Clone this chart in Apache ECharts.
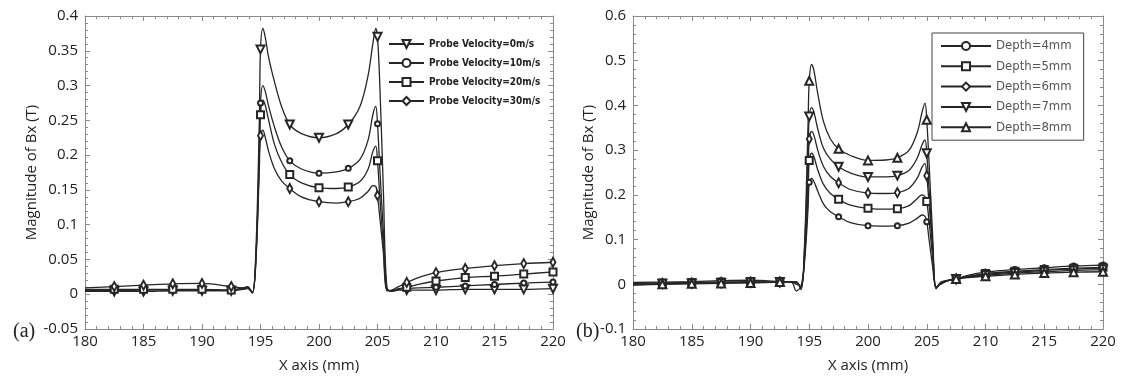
<!DOCTYPE html>
<html>
<head>
<meta charset="utf-8">
<script src="https://cdn.jsdelivr.net/npm/echarts@6/dist/echarts.min.js"></script>
<style>
  html, body { margin: 0; padding: 0; background: #fff; }
  #chart { width: 1121px; height: 378px; }
</style>
</head>
<body>
<div id="chart"></div>
<script>
// sample positions along the x axis (mm), shared by both panels
const xPos = [180, 182.5, 185, 187.5, 190, 192.5, 193.5, 193.9, 194.3, 194.6, 194.9, 195, 195.2, 195.4, 195.7, 196.2, 196.8, 197.5, 198.5, 200, 201.5, 202.5, 203.5, 204.2, 204.6, 204.85, 205, 205.2, 205.5, 205.8, 206.2, 206.8, 207.5, 208.5, 210, 212.5, 215, 217.5, 220];

// panel (a): probe velocity
const velocityNames = ["Probe Velocity=0m/s", "Probe Velocity=10m/s", "Probe Velocity=20m/s", "Probe Velocity=30m/s"];
const vel0 = [0.004, 0.004, 0.004, 0.005, 0.005, 0.005, 0.007, 0.008, 0.002, 0.06, 0.25, 0.352, 0.382, 0.37, 0.34, 0.305, 0.27, 0.244, 0.231, 0.225, 0.231, 0.244, 0.27, 0.315, 0.36, 0.382, 0.37, 0.3, 0.15, 0.01, 0.004, 0.006, 0.006, 0.006, 0.006, 0.007, 0.007, 0.007, 0.008];
const vel10 = [0.005, 0.005, 0.006, 0.006, 0.006, 0.006, 0.008, 0.009, 0.002, 0.05, 0.2, 0.275, 0.3, 0.292, 0.27, 0.24, 0.212, 0.192, 0.18, 0.174, 0.176, 0.181, 0.194, 0.222, 0.258, 0.27, 0.245, 0.18, 0.09, 0.008, 0.005, 0.007, 0.008, 0.009, 0.01, 0.012, 0.014, 0.016, 0.0175];
const vel20 = [0.007, 0.007, 0.007, 0.007, 0.007, 0.006, 0.009, 0.01, 0.002, 0.05, 0.2, 0.258, 0.279, 0.272, 0.25, 0.215, 0.19, 0.172, 0.16, 0.153, 0.152, 0.154, 0.162, 0.18, 0.205, 0.213, 0.192, 0.14, 0.07, 0.006, 0.005, 0.008, 0.01, 0.014, 0.019, 0.024, 0.026, 0.029, 0.032];
const vel30 = [0.009, 0.011, 0.013, 0.015, 0.0155, 0.011, 0.009, 0.011, 0.002, 0.045, 0.18, 0.228, 0.236, 0.226, 0.205, 0.18, 0.163, 0.152, 0.14, 0.133, 0.131, 0.133, 0.138, 0.148, 0.156, 0.155, 0.142, 0.11, 0.06, 0.005, 0.006, 0.011, 0.017, 0.024, 0.031, 0.037, 0.041, 0.044, 0.046];

// panel (b): defect depth
const depthNames = ["Depth=4mm", "Depth=5mm", "Depth=6mm", "Depth=7mm", "Depth=8mm"];
const depth4 = [0.004, 0.005, 0.006, 0.008, 0.009, 0.006, 0.004, -0.015, -0.004, 0.05, 0.17, 0.228, 0.237, 0.23, 0.21, 0.18, 0.162, 0.151, 0.138, 0.131, 0.13, 0.131, 0.137, 0.148, 0.155, 0.152, 0.14, 0.1, 0.04, -0.006, 0.0, 0.008, 0.012, 0.02, 0.027, 0.033, 0.037, 0.041, 0.043];
const depth5 = [0.002, 0.003, 0.004, 0.005, 0.006, 0.005, 0.005, 0.0, -0.005, 0.06, 0.2, 0.277, 0.293, 0.285, 0.258, 0.224, 0.203, 0.19, 0.177, 0.17, 0.168, 0.169, 0.176, 0.192, 0.2, 0.196, 0.185, 0.14, 0.06, -0.008, 0.002, 0.008, 0.012, 0.018, 0.024, 0.029, 0.033, 0.036, 0.038];
const depth6 = [0.0, 0.002, 0.003, 0.004, 0.005, 0.005, 0.006, 0.004, -0.007, 0.07, 0.24, 0.325, 0.342, 0.333, 0.302, 0.264, 0.241, 0.227, 0.212, 0.204, 0.203, 0.205, 0.215, 0.238, 0.262, 0.27, 0.243, 0.18, 0.08, -0.008, 0.003, 0.008, 0.012, 0.017, 0.022, 0.027, 0.031, 0.034, 0.036];
const depth7 = [-0.001, 0.001, 0.002, 0.003, 0.004, 0.005, 0.006, 0.005, -0.009, 0.08, 0.3, 0.375, 0.395, 0.385, 0.35, 0.305, 0.28, 0.263, 0.249, 0.24, 0.24, 0.243, 0.255, 0.283, 0.312, 0.323, 0.293, 0.21, 0.09, -0.009, 0.004, 0.008, 0.012, 0.016, 0.02, 0.025, 0.028, 0.031, 0.033];
const depth8 = [-0.002, 0.0, 0.001, 0.002, 0.003, 0.005, 0.006, 0.006, -0.012, 0.09, 0.36, 0.455, 0.492, 0.478, 0.43, 0.365, 0.325, 0.303, 0.288, 0.277, 0.278, 0.283, 0.3, 0.34, 0.385, 0.405, 0.368, 0.27, 0.11, -0.01, 0.005, 0.009, 0.012, 0.015, 0.018, 0.022, 0.025, 0.027, 0.028];

const LINE = "#262626";
const AXIS = "#8a8a8a";
const tickFont = '"Open Sans", "Noto Sans", sans-serif';
const narrowFont = '"Liberation Sans Narrow", "DejaVu Sans Condensed", sans-serif';

// markers only every 2.5 mm, like the original plot
function toData(ys) {
  return xPos.map((x, i) => {
    if (x > 180 && x % 2.5 === 0) return [x, ys[i]];
    return { value: [x, ys[i]], symbol: "none" };
  });
}

function lineSeries(name, ys, axisIdx, symbol, size, rotate) {
  return {
    name: name,
    type: "line",
    xAxisIndex: axisIdx,
    yAxisIndex: axisIdx,
    data: toData(ys),
    smooth: 0.35,
    symbol: symbol,
    symbolSize: size,
    symbolRotate: rotate || 0,
    showAllSymbol: true,
    lineStyle: { color: LINE, width: 1.3 },
    itemStyle: { color: LINE, borderWidth: 1 },
    emphasis: { disabled: true },
  };
}

function xAx(grid, top) {
  return {
    type: "value",
    gridIndex: grid,
    position: top ? "top" : "bottom",
    min: 180,
    max: 220,
    interval: 5,
    name: top ? "" : "X axis (mm)",
    nameLocation: "middle",
    nameGap: 29,
    nameTextStyle: { fontFamily: tickFont, fontSize: 15, color: "#222" },
    axisLine: { show: true, onZero: false, lineStyle: { color: AXIS, width: 1 } },
    axisTick: { show: true, inside: true, length: 5, lineStyle: { color: AXIS } },
    minorTick: { show: true, splitNumber: 5, length: 3, lineStyle: { color: AXIS } },
    splitLine: { show: false },
    axisLabel: { show: !top, fontFamily: tickFont, fontSize: 15, color: "#222", margin: 5 },
  };
}

function yAx(grid, right, min, max, step, gap) {
  return {
    type: "value",
    gridIndex: grid,
    position: right ? "right" : "left",
    min: min,
    max: max,
    interval: step,
    name: right ? "" : "Magnitude of Bx (T)",
    nameLocation: "middle",
    nameGap: gap,
    nameTextStyle: { fontFamily: tickFont, fontSize: 15, color: "#222" },
    axisLine: { show: true, onZero: false, lineStyle: { color: AXIS, width: 1 } },
    axisTick: { show: true, inside: true, length: 5, lineStyle: { color: AXIS } },
    minorTick: { show: true, splitNumber: 5, length: 3, lineStyle: { color: AXIS } },
    splitLine: { show: false },
    axisLabel: { show: !right, fontFamily: tickFont, fontSize: 15, color: "#222", margin: 7 },
  };
}

const chart = echarts.init(document.getElementById("chart"));

chart.setOption({
  animation: false,
  backgroundColor: "#fff",
  grid: [
    { left: 85, top: 16, width: 468, height: 320 },
    { left: 633, top: 16, width: 470, height: 320 },
  ],
  xAxis: [xAx(0, false), xAx(0, true), xAx(1, false), xAx(1, true)],
  yAxis: [
    yAx(0, false, -0.05, 0.4, 0.05, 44),
    yAx(0, true, -0.05, 0.4, 0.05, 0),
    yAx(1, false, -0.1, 0.6, 0.1, 37),
    yAx(1, true, -0.1, 0.6, 0.1, 0),
  ],
  legend: [
    {
      data: velocityNames,
      orient: "vertical",
      left: 388,
      top: 37,
      padding: 0,
      itemWidth: 35,
      itemHeight: 10,
      itemGap: 5,
      selectedMode: false,
      textStyle: {
        fontFamily: narrowFont,
        fontWeight: "bold",
        fontSize: 10,
        lineHeight: 14,
        color: "#222",
      },
    },
    {
      data: depthNames,
      orient: "vertical",
      left: 932,
      top: 33,
      padding: [6, 12, 6, 8],
      borderColor: "#444",
      borderWidth: 1,
      itemWidth: 50,
      itemHeight: 10,
      itemGap: 6.3,
      selectedMode: false,
      textStyle: {
        fontFamily: narrowFont,
        fontSize: 13,
        lineHeight: 14,
        color: "#555",
      },
    },
  ],
  graphic: [
    { type: "text", left: 13, top: 322, style: { text: "(a)", font: '20px "Liberation Serif", serif', fill: "#222" } },
    { type: "text", left: 576, top: 322, style: { text: "(b)", font: '20px "Liberation Serif", serif', fill: "#222" } },
  ],
  series: [
    lineSeries(velocityNames[0], vel0, 0, "emptyTriangle", 8, 180),
    lineSeries(velocityNames[1], vel10, 0, "emptyCircle", 5),
    lineSeries(velocityNames[2], vel20, 0, "emptyRect", 7),
    lineSeries(velocityNames[3], vel30, 0, "emptyDiamond", [5, 9]),
    lineSeries(depthNames[0], depth4, 2, "emptyCircle", 5),
    lineSeries(depthNames[1], depth5, 2, "emptyRect", 7),
    lineSeries(depthNames[2], depth6, 2, "emptyDiamond", [5, 9]),
    lineSeries(depthNames[3], depth7, 2, "emptyTriangle", 8, 180),
    lineSeries(depthNames[4], depth8, 2, "emptyTriangle", 8),
  ],
});
</script>
</body>
</html>
